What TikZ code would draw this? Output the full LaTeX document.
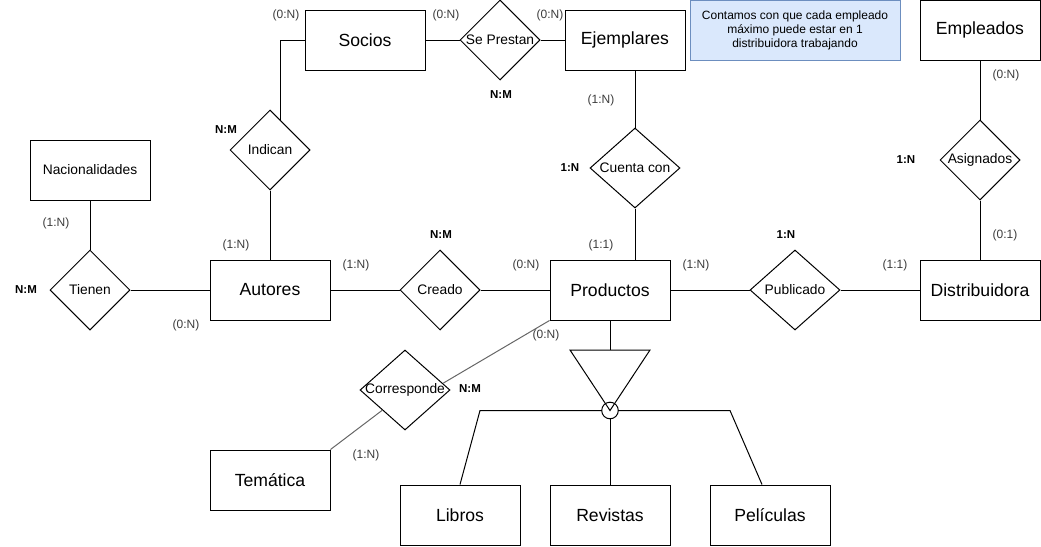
\documentclass[tikz,border=0pt]{standalone}
\usepackage{fontspec}
\setmainfont{Liberation Sans}
\usetikzlibrary{shapes.geometric}
\definecolor{labgray}{RGB}{60,60,60}
\definecolor{linegray}{RGB}{102,102,102}
\definecolor{notefill}{RGB}{218,232,252}
\definecolor{noteline}{RGB}{108,142,191}
\tikzset{
  ent/.style={draw, line width=1pt, minimum width=120pt, minimum height=60pt, inner sep=0pt, font=\fontsize{17.6}{20}\selectfont},
  rel/.style={draw, line width=1pt, diamond, minimum width=80pt, minimum height=80pt, inner sep=0pt, label={[font=\fontsize{13.8}{16}\selectfont]center:#1}},
  card/.style={text=labgray, inner sep=0pt, font=\fontsize{12}{14}\selectfont},
  kind/.style={inner sep=0pt, font=\bfseries\fontsize{11.5}{13}\selectfont},
}
\begin{document}
\begin{tikzpicture}[x=1pt, y=-1pt, line width=1pt]
            \useasboundingbox (0,0) rectangle (1041,546);
            \node[ent] (soc) at (365,40) {Socios};
            \node[ent] (eje) at (625,40) {Ejemplares};
            \node[ent] (emp) at (980,30) {Empleados};
            \node[ent, minimum width=120pt, font=\fontsize{13.8}{16}\selectfont] (nac) at (90,170) {Nacionalidades};
            \node[ent] (aut) at (270,290) {Autores};
            \node[ent] (pro) at (610,290) {Productos};
            \node[ent] (dis) at (980,290) {Distribuidora};
            \node[ent] (tem) at (270,480) {Temática};
            \node[ent] (lib) at (460,515) {Libros};
            \node[ent] (rev) at (610,515) {Revistas};
            \node[ent] (pel) at (770,515) {Películas};
            \node[rel=Se Prestan] (pre) at (500,40) {};
            \node[rel=Indican] (ind) at (270,150) {};
            \node[rel=Cuenta con, minimum width=90pt] (cue) at (635,168) {};
            \node[rel=Asignados] (asi) at (980,160) {};
            \node[rel=Tienen] (tie) at (90,290) {};
            \node[rel=Creado] (cre) at (440,290) {};
            \node[rel=Publicado, minimum width=90pt] (pub) at (795,290) {};
            \node[rel=Corresponde, minimum width=90pt] (cor) at (405,390) {};
            \node[draw=noteline, fill=notefill, line width=1pt, minimum width=210pt, minimum height=60pt, align=center, font=\fontsize{12}{14}\selectfont] (nota) at (795,30) {Contamos con que cada empleado\\máximo puede estar en 1\\distribuidora trabajando};
            \draw (soc.east) -- (pre.west);
            \draw (pre.east) -- (eje.west);
            \draw (soc.west) -| (ind.71.6);
            \draw (ind.south) -- (aut.north);
            \draw (cue.north |- eje.south) -- (cue.north);
            \draw (cue.south) -- (cue.south |- pro.north);
            \draw (emp.south) -- (asi.north);
            \draw (asi.south) -- (dis.north);
            \draw (nac.south) -- (tie.north);
            \draw (tie.east) -- (aut.west);
            \draw (aut.east) -- (cre.west);
            \draw (cre.east) -- (pro.west);
            \draw (pro.east) -- (pub.west);
            \draw (pub.east) -- (dis.west);
            \draw[linegray] (pro.south west) -- (cor.10);
            \draw[linegray] (tem.north east) -- (cor.south west);
            \coordinate (tri) at (610,350);
            \coordinate (isa) at (610,410.5);
            \node[draw, circle, minimum size=16.6pt, inner sep=0pt] (isac) at (isa) {};
            \draw (570,350) -- (650,350) -- (isa) -- cycle;
            \draw (pro.south) -- (tri);
            \draw (isac.west) -- (480,410.5) -- (lib.north);
            \draw (isac.east) -- (730,410.5) -- ([xshift=-8pt]pel.north);
            \draw (isac.south) -- (rev.north);
            \node[card] (c1) at (286,15) {(0:N)};
            \node[card] (c2) at (446,15) {(0:N)};
            \node[card] (c3) at (550,15) {(0:N)};
            \node[card] (c4) at (56,223) {(1:N)};
            \node[card] (c5) at (236,245) {(1:N)};
            \node[card] (c6) at (356,265) {(1:N)};
            \node[card] (c7) at (526,265) {(0:N)};
            \node[card] (c8) at (696,265) {(1:N)};
            \node[card] (c9) at (895,265) {(1:1)};
            \node[card] (c10) at (1005,235) {(0:1)};
            \node[card] (c11) at (1006,75) {(0:N)};
            \node[card] (c12) at (601,100) {(1:N)};
            \node[card] (c13) at (601,245) {(1:1)};
            \node[card] (c14) at (186,325) {(0:N)};
            \node[card] (c15) at (546,335) {(0:N)};
            \node[card] (c16) at (366,455) {(1:N)};
            \node[kind] (k1) at (501,95) {N:M};
            \node[kind] (k2) at (226,130) {N:M};
            \node[kind] (k3) at (441,235) {N:M};
            \node[kind] (k4) at (786,235) {1:N};
            \node[kind] (k5) at (906,160) {1:N};
            \node[kind] (k6) at (570,168) {1:N};
            \node[kind] (k7) at (26,290) {N:M};
            \node[kind] (k8) at (470,389) {N:M};
        \end{tikzpicture}
\end{document}
